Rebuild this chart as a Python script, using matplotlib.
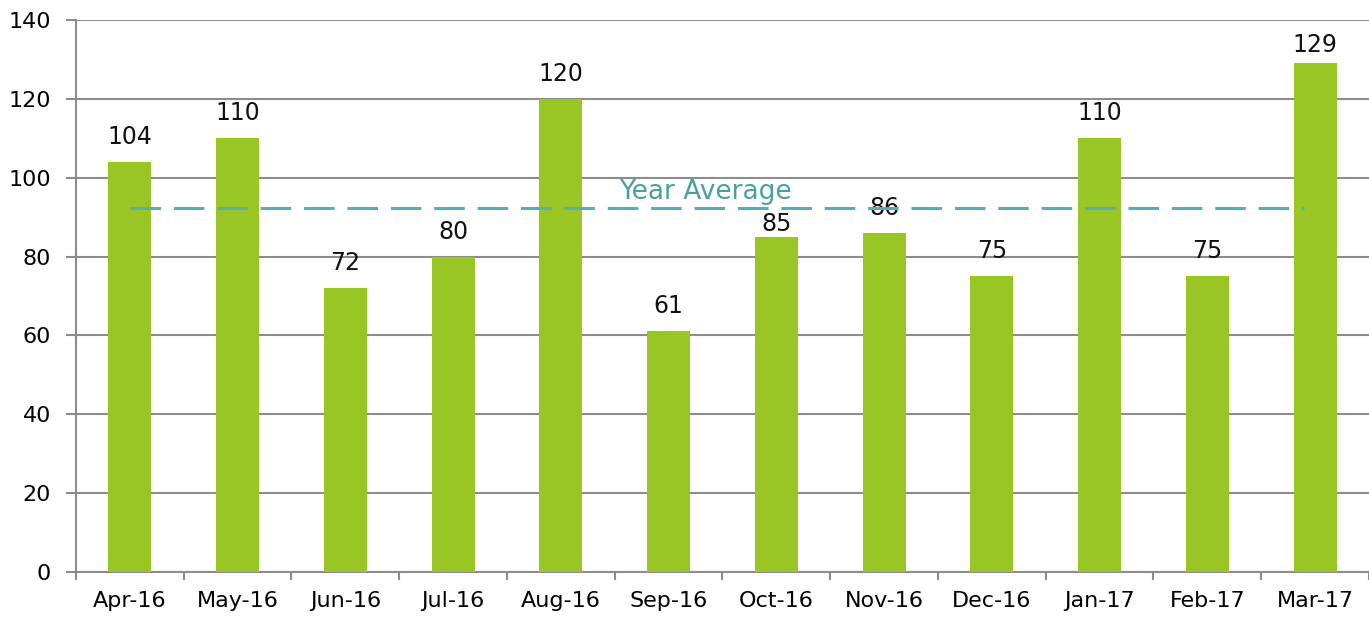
import matplotlib
matplotlib.use("Agg")
import matplotlib.pyplot as plt
import numpy as np

meses = ["Apr-16", "May-16", "Jun-16", "Jul-16", "Aug-16", "Sep-16",
         "Oct-16", "Nov-16", "Dec-16", "Jan-17", "Feb-17", "Mar-17"]
valores = [104, 110, 72, 80, 120, 61, 85, 86, 75, 110, 75, 129]
promedio = sum(valores) / len(valores)
yticks = [0, 20, 40, 60, 80, 100, 120, 140]

verde = "#99C624"
gris = "#8C8C8C"
teal = "#56AFB8"

plt.rcParams["font.family"] = "DejaVu Sans"

fig = plt.figure(figsize=(13.69, 6.19), dpi=100)
ax = fig.add_axes([0.0555, 0.0759, 0.9445, 0.8918])

x = np.arange(len(meses))
ax.bar(x, valores, width=0.4, color=verde, zorder=3)

# etiquetas movidas a mano en el original
ajuste = {"Oct-16": 4, "Mar-17": 8}
for xi, mes, v in zip(x, meses, valores):
    ax.annotate(str(v), (xi, v), xytext=(0, ajuste.get(mes, 13)),
                textcoords="offset points", ha="center", va="baseline",
                fontsize=17, color="#111111")

# linea del promedio anual
ax.plot([0, 10.9], [promedio, promedio], color=teal, linewidth=2.2,
        dashes=(10, 4.2), solid_capstyle="butt", dash_capstyle="butt", zorder=4)
ax.text(5.34, 94.6, "Year Average", color="#4A9EA6", fontsize=19,
        ha="center", va="baseline", zorder=5)

ax.set_xlim(-0.5, len(meses) - 0.5)
ax.set_ylim(0, 140)
ax.set_yticks(yticks)
ax.set_xticks(x)
ax.set_xticklabels(meses)
ax.set_xticks(np.arange(-0.5, len(meses), 1.0), minor=True)

ax.grid(axis="y", color=gris, linewidth=1.5, zorder=0)
ax.set_axisbelow(True)
for lado in ["top", "right"]:
    ax.spines[lado].set_visible(False)
for lado in ["left", "bottom"]:
    ax.spines[lado].set_color(gris)
    ax.spines[lado].set_linewidth(1.5)

ax.tick_params(axis="y", length=7, width=1.5, color=gris, labelsize=16, pad=11)
ax.tick_params(axis="x", which="major", length=0, labelsize=16, pad=14)
ax.tick_params(axis="x", which="minor", length=6, width=1.5, color=gris)

fig.savefig("out.png", dpi=100)
